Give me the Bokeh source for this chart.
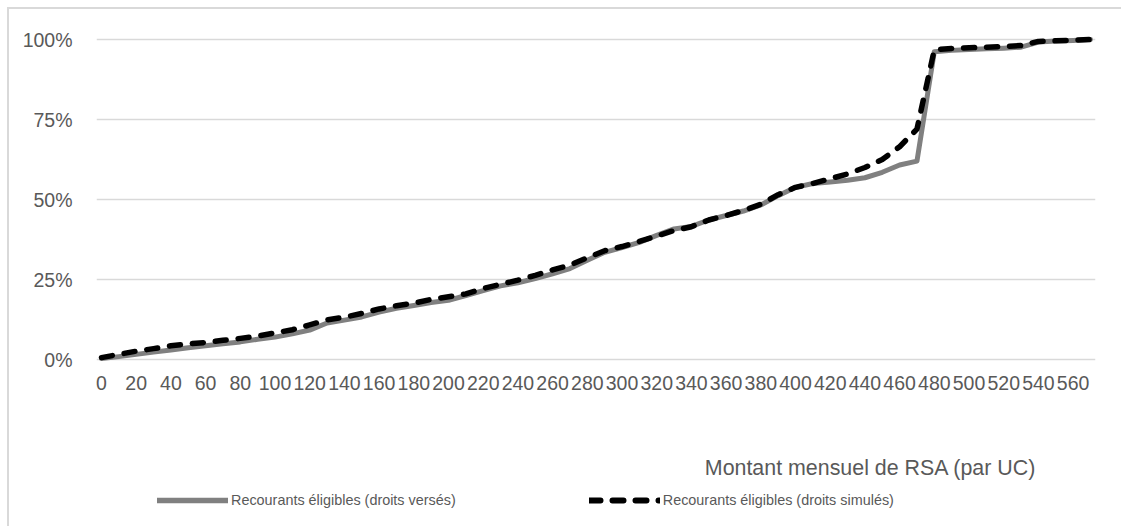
from bokeh.plotting import figure
from bokeh.layouts import column
from bokeh.models import (FixedTicker, PrintfTickFormatter, Legend, LegendItem,
                          Label, Range1d)
from bokeh.embed import file_html
from bokeh.resources import INLINE

# ---- data -------------------------------------------------------------
montants = [0, 10, 20, 30, 40, 50, 60, 70, 80, 90,
            100, 110, 120, 130, 140, 150, 160, 170, 180, 190,
            200, 210, 220, 230, 240, 250, 260, 270, 280, 290,
            300, 310, 320, 330, 340, 350, 360, 370, 380, 390,
            400, 410, 420, 430, 440, 450, 460, 470, 480, 490,
            500, 510, 520, 530, 540, 550, 560, 570]

droits_verses = [0.3, 0.9, 1.6, 2.3, 3.0, 3.7, 4.3, 4.9, 5.5, 6.3,
                 7.0, 8.0, 9.2, 11.4, 12.3, 13.3, 14.8, 16.0, 16.9, 17.8,
                 18.5, 20.0, 21.5, 23.0, 24.0, 25.3, 26.8, 28.4, 31.0, 33.5,
                 35.0, 36.6, 38.8, 40.8, 41.6, 43.6, 45.0, 46.4, 48.3, 51.2,
                 53.8, 55.0, 55.5, 56.0, 56.8, 58.5, 60.8, 62.0, 96.2, 96.6,
                 96.9, 97.1, 97.3, 97.6, 99.2, 99.5, 99.7, 100.0]

droits_simules = [0.6, 1.6, 2.6, 3.4, 4.3, 4.9, 5.3, 6.0, 6.6, 7.3,
                  8.3, 9.3, 10.8, 12.4, 13.2, 14.4, 15.8, 16.8, 17.6, 18.8,
                  19.6, 20.5, 22.2, 23.5, 24.8, 26.3, 28.0, 29.5, 31.8, 34.0,
                  35.3, 36.9, 38.6, 40.3, 41.5, 43.6, 45.0, 46.6, 48.5, 51.5,
                  53.8, 55.0, 56.5, 58.0, 60.0, 62.5, 66.5, 72.0, 96.8, 97.2,
                  97.4, 97.6, 97.8, 98.1, 99.4, 99.6, 99.8, 100.0]

x_ticks = [0, 20, 40, 60, 80, 100, 120, 140, 160, 180, 200, 220, 240, 260,
           280, 300, 320, 340, 360, 380, 400, 420, 440, 460, 480, 500, 520,
           540, 560]
y_ticks = [0, 25, 50, 75, 100]

label_verses = "Recourants éligibles (droits versés)"
label_simules = "Recourants éligibles (droits simulés)"
axis_title = "Montant mensuel de RSA (par UC)"

FONT = "Liberation Sans"
TXT = "#595959"
GRAY = "#808080"

# ---- main chart ---------------------------------------------------------
p = figure(width=1121, height=400, output_backend="svg", toolbar_location=None,
           x_range=Range1d(-2.88, 572.9), y_range=Range1d(-2.5, 102.5),
           min_border_left=96, min_border_right=26,
           min_border_top=31, min_border_bottom=33,
           styles={"box-shadow": "inset 7px 7px 0 0 #ffffff, inset 9px 9px 0 0 #d9d9d9"})
p.outline_line_color = None
p.background_fill_color = "white"
p.border_fill_alpha = 0

p.xgrid.visible = False
p.ygrid.ticker = FixedTicker(ticks=y_ticks)
p.ygrid.grid_line_color = "#d9d9d9"
p.ygrid.grid_line_width = 1.5

for ax in (p.xaxis[0], p.yaxis[0]):
    ax.axis_line_color = None
    ax.major_tick_line_color = None
    ax.minor_tick_line_color = None
    ax.major_tick_out = 0
    ax.major_tick_in = 0
    ax.minor_tick_out = 0
    ax.minor_tick_in = 0
    ax.major_label_text_font = FONT
    ax.major_label_text_color = TXT
    ax.major_label_text_font_size = "19.5px"

p.xaxis.ticker = FixedTicker(ticks=x_ticks)
p.xaxis.major_label_standoff = 8
p.yaxis.ticker = FixedTicker(ticks=y_ticks)
p.yaxis.formatter = PrintfTickFormatter(format="%d%%")
p.yaxis.major_label_standoff = 24

p.line(montants, droits_verses, line_color=GRAY, line_width=5,
       line_join="round", line_cap="round")
p.line(montants, droits_simules, line_color="black", line_width=5.5,
       line_dash="11 12", line_join="round", line_cap="round")

# ---- bottom strip: axis title + legend ----------------------------------
# frame of this strip is aligned with the main frame (page px 96..1095)
q = figure(width=1121, height=126, output_backend="svg", toolbar_location=None,
           x_range=Range1d(96, 1095), y_range=Range1d(126, 0),
           x_axis_type=None, y_axis_type=None,
           min_border_left=0, min_border_right=0, min_border_top=0, min_border_bottom=0,
           styles={"box-shadow": "inset 7px 0 0 0 #ffffff, inset 9px 0 0 0 #d9d9d9"})
q.outline_line_color = None
q.background_fill_alpha = 0
q.border_fill_alpha = 0
q.grid.visible = False
q.extra_x_ranges = {"hidden": Range1d(10000, 10001)}

q.add_layout(Label(x=1036, y=67, text=axis_title, text_align="right",
                   text_baseline="middle", text_font=FONT, text_font_size="21.4px",
                   text_color=TXT))

# legend samples: same series, drawn on an off-screen range
l1 = q.line(montants, droits_verses, x_range_name="hidden", line_color=GRAY,
            line_width=5.5, line_cap="round")
l2 = q.line(montants, droits_simules, x_range_name="hidden", line_color="black",
            line_width=6, line_dash="11 12", line_cap="round")

legend = Legend(items=[LegendItem(label=label_verses, renderers=[l1]),
                       LegendItem(label=label_simules, renderers=[l2])],
                orientation="horizontal", location=(61, 16),
                glyph_width=71, glyph_height=20, label_standoff=3, spacing=133,
                padding=0, margin=0, border_line_color=None,
                background_fill_alpha=0, label_text_font=FONT,
                label_text_font_size="14.4px", label_text_color=TXT)
q.add_layout(legend)

layout = column(p, q, spacing=0)
open("out.html", "w").write(file_html(layout, INLINE))
